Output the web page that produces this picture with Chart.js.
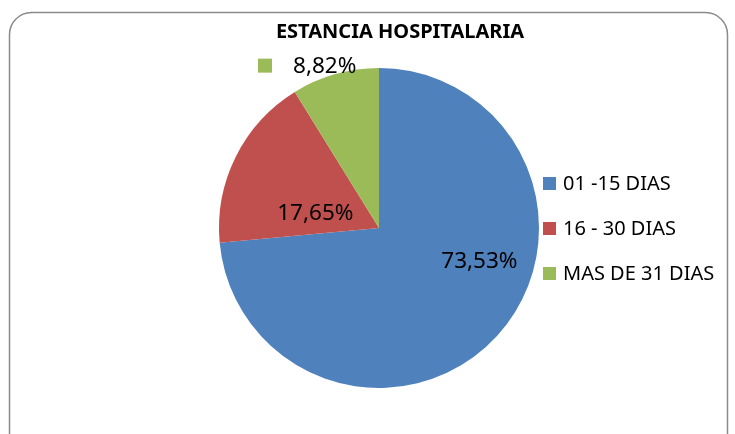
<!DOCTYPE html>
<html>
<head>
<meta charset="utf-8">
<script src="https://cdn.jsdelivr.net/npm/chart.js@4.4.1/dist/chart.umd.min.js"></script>
<style>
  html, body { margin: 0; padding: 0; background: #fff; }
  #wrap { width: 735px; height: 434px; position: relative; }
</style>
</head>
<body>
<div id="wrap"><canvas id="pie-chart" width="735" height="434"></canvas></div>
<script>
// data
const categories = ['01 -15 DIAS', '16 - 30 DIAS', 'MAS DE 31 DIAS']
const percentages = [73.53, 17.65, 8.82]
const sliceColors = ['#4F81BD', '#C0504D', '#9BBB59']
const chartTitle = 'ESTANCIA HOSPITALARIA'

// where Excel put the data labels: angle from 12 o'clock (deg) and fraction of the radius
const labelSpots = [
    { angle: 108, frac: 0.66, key: false },
    { angle: 284, frac: 0.41, key: false },
    { angle: 341.5, frac: 1.07, key: true }
]

const FONT = '"Noto Sans", "Open Sans", sans-serif'

const excelLook = {
    id: 'excelLook',
    beforeDraw(chart) {
        const ctx = chart.ctx
        // rounded frame, bottom runs off the picture
        ctx.save()
        ctx.strokeStyle = '#8a8a8a'
        ctx.lineWidth = 1.5
        ctx.beginPath()
        ctx.roundRect(9.5, 12.5, 718, 460, 22)
        ctx.stroke()
        ctx.restore()
    },
    afterDraw(chart) {
        const ctx = chart.ctx
        ctx.save()
        ctx.fillStyle = '#000'
        ctx.textBaseline = 'middle'

        // title
        ctx.font = 'bold 20px ' + FONT
        ctx.textAlign = 'center'
        ctx.fillText(chartTitle, 400, 32)

        // legend
        ctx.font = '20px ' + FONT
        ctx.textAlign = 'left'
        categories.forEach((c, i) => {
            const y = 183.5 + i * 45
            ctx.fillStyle = sliceColors[i]
            ctx.fillRect(543, y - 6.5, 13, 13)
            ctx.fillStyle = '#000'
            ctx.fillText(c, 563, y + 1)
        })

        // data labels
        const arcs = chart.getDatasetMeta(0).data
        ctx.font = '22.5px ' + FONT
        ctx.textAlign = 'center'
        arcs.forEach((arc, i) => {
            const spot = labelSpots[i]
            const a = spot.angle * Math.PI / 180
            const x = arc.x + Math.sin(a) * arc.outerRadius * spot.frac
            const y = arc.y - Math.cos(a) * arc.outerRadius * spot.frac
            const txt = percentages[i].toFixed(2).replace('.', ',') + '%'
            ctx.fillStyle = '#000'
            ctx.fillText(txt, x, y + 1)
            if (spot.key) {
                const w = ctx.measureText(txt).width
                ctx.fillStyle = sliceColors[i]
                ctx.fillRect(x - w / 2 - 35, y - 7, 14, 14)
            }
        })
        ctx.restore()
    }
}

new Chart(document.getElementById('pie-chart'), {
    type: 'pie',
    data: {
        labels: categories,
        datasets: [{
            data: percentages,
            backgroundColor: sliceColors,
            borderWidth: 0
        }]
    },
    options: {
        responsive: false,
        animation: false,
        layout: { padding: { left: 219, right: 196, top: 68, bottom: 46 } },
        plugins: {
            legend: { display: false },
            title: { display: false },
            tooltip: { enabled: false }
        }
    },
    plugins: [excelLook]
})
</script>
</body>
</html>
